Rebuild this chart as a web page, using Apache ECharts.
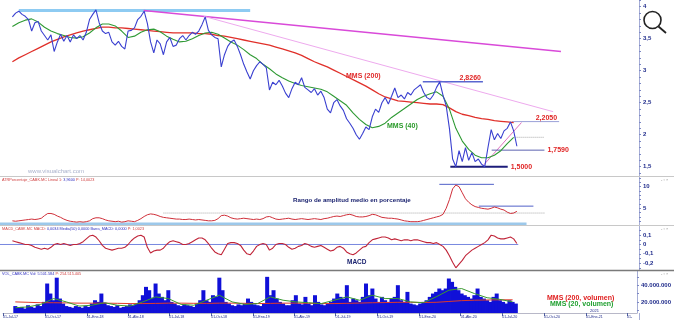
<!DOCTYPE html>
<html><head><meta charset="utf-8">
<script src="https://cdn.jsdelivr.net/npm/echarts@6/dist/echarts.min.js"></script>
<style>html,body{margin:0;padding:0;background:#fff}#c{width:674px;height:320px}</style>
</head><body><div id="c"></div>
<script>
// ---------- DATA ----------
const startWeek = '2017-07-28';   // weekly samples (Fridays)
const price = [
3.84,3.90,3.93,3.88,3.85,3.80,3.62,3.75,3.77,3.62,
3.55,3.48,3.56,3.30,3.45,3.57,3.46,3.55,3.45,3.56,
3.50,3.55,3.48,3.60,3.80,3.88,3.95,3.75,3.62,3.58,
3.60,3.45,3.40,3.46,3.38,3.34,3.62,3.63,3.67,3.80,
3.85,3.93,3.74,3.45,3.28,3.48,3.42,3.25,3.45,3.52,
3.38,3.40,3.50,3.55,3.48,3.55,3.60,3.57,3.62,3.72,
3.84,3.63,3.56,3.52,3.50,3.06,3.25,3.38,3.45,3.48,
3.38,3.25,3.10,2.98,2.87,3.00,3.08,3.14,3.10,3.05,
2.70,2.82,2.78,2.85,2.76,2.65,2.58,2.72,2.82,2.78,
2.89,2.74,2.70,2.66,2.72,2.62,2.68,2.58,2.40,2.34,
2.50,2.55,2.45,2.38,2.25,2.18,2.10,2.00,1.93,2.02,
2.12,2.08,2.28,2.40,2.35,2.50,2.58,2.48,2.60,2.73,
2.58,2.62,2.56,2.66,2.62,2.70,2.74,2.78,2.66,2.58,
2.55,2.62,2.74,2.826,2.62,2.45,2.10,1.62,1.50,1.75,
1.58,1.80,1.60,1.72,1.58,1.62,1.54,1.50,1.80,2.08,
1.92,2.02,1.94,2.06,2.10,2.20,2.06,1.82];
// moving averages, one value every 2 weeks
const mms200 = [
3.14,3.20,3.25,3.30,3.35,3.40,3.45,3.49,3.53,3.56,
3.59,3.62,3.64,3.66,3.68,3.68,3.67,3.67,3.66,3.65,
3.64,3.63,3.62,3.61,3.60,3.59,3.59,3.59,3.59,3.58,
3.58,3.57,3.55,3.54,3.52,3.50,3.48,3.46,3.44,3.42,
3.40,3.37,3.34,3.31,3.28,3.24,3.19,3.14,3.10,3.06,
3.01,2.96,2.91,2.86,2.81,2.76,2.70,2.64,2.59,2.56,
2.53,2.52,2.51,2.50,2.49,2.48,2.48,2.47,2.42,2.36,
2.32,2.30,2.27,2.25,2.24,2.22,2.21,2.20,2.19];
const mms40 = [
3.69,3.75,3.79,3.81,3.76,3.68,3.62,3.58,3.55,3.52,
3.51,3.53,3.59,3.67,3.73,3.73,3.70,3.62,3.52,3.54,
3.60,3.64,3.65,3.61,3.54,3.49,3.45,3.46,3.50,3.55,
3.59,3.60,3.57,3.51,3.45,3.40,3.33,3.25,3.19,3.10,
3.03,2.95,2.89,2.84,2.80,2.77,2.75,2.73,2.71,2.67,
2.60,2.53,2.46,2.34,2.24,2.16,2.11,2.13,2.18,2.27,
2.34,2.41,2.48,2.55,2.60,2.64,2.67,2.60,2.40,2.10,
1.90,1.77,1.68,1.64,1.64,1.68,1.75,1.86,1.96];
const atrPct = [
2.1,2.0,2.1,2.2,2.3,2.4,2.5,2.4,2.5,2.7,
3.3,3.8,3.8,3.6,3.2,2.9,2.5,2.2,2.0,1.9,
1.8,1.9,1.8,1.9,2.1,2.6,2.8,2.8,2.6,2.3,
2.1,2.0,1.9,2.0,1.8,1.9,2.1,2.0,1.9,2.2,
2.6,3.1,3.5,3.7,3.6,3.4,3.1,2.9,2.8,2.7,
2.6,2.5,2.5,2.4,2.4,2.5,2.4,2.3,2.4,2.3,
2.2,2.1,2.1,2.2,2.6,3.3,3.4,3.2,2.8,2.6,
2.5,2.6,2.7,2.6,2.5,2.4,2.5,2.4,2.6,3.0,
3.1,2.8,2.5,2.4,2.5,2.6,2.7,2.5,2.4,2.5,
2.6,2.5,2.4,2.5,2.6,2.5,2.4,2.6,2.7,2.9,
3.1,3.2,3.1,3.3,3.5,3.6,3.4,3.1,3.0,3.0,
3.1,3.3,3.6,3.5,3.2,2.9,2.8,2.7,2.7,2.6,
2.5,2.3,2.1,2.0,1.9,1.9,1.9,2.0,2.2,2.4,
2.6,2.8,3.0,3.2,3.6,5.0,7.0,9.5,10.4,10.0,
8.6,7.2,6.4,5.8,5.4,5.2,5.0,4.9,4.8,5.0,
5.3,5.1,4.8,4.6,4.1,3.8,3.9,4.3];
const macd = [
0.04,0.03,0.02,0.01,0.00,0.00,-0.01,-0.03,-0.04,-0.05,
-0.04,-0.05,-0.03,0.00,0.01,0.00,0.01,0.00,-0.01,0.00,
0.00,0.01,0.03,0.06,0.09,0.10,0.08,0.04,-0.01,-0.04,
-0.05,-0.06,-0.05,-0.04,-0.04,-0.03,0.00,0.04,0.07,0.09,
0.10,0.08,-0.03,-0.09,-0.07,-0.06,-0.06,-0.04,0.00,0.03,
0.04,0.03,0.02,0.00,0.00,0.01,0.03,0.05,0.07,0.07,
0.05,0.01,-0.04,-0.08,-0.10,-0.11,-0.05,0.01,0.02,0.02,
0.01,-0.01,-0.06,-0.10,-0.11,-0.07,-0.02,0.00,0.01,0.00,
-0.06,-0.04,0.00,0.01,0.01,0.00,-0.03,-0.05,-0.04,-0.02,
-0.01,0.01,0.00,-0.02,-0.03,-0.02,-0.01,-0.03,-0.05,-0.07,
-0.06,-0.03,-0.02,-0.04,-0.08,-0.10,-0.11,-0.09,-0.06,-0.03,
-0.02,0.02,0.05,0.06,0.07,0.08,0.08,0.07,0.05,0.06,
0.05,0.04,0.05,0.05,0.04,0.05,0.05,0.04,0.03,0.02,
0.02,0.01,0.02,0.00,-0.02,-0.06,-0.12,-0.19,-0.25,-0.21,
-0.17,-0.12,-0.09,-0.06,-0.04,-0.02,0.00,0.02,0.05,0.10,
0.09,0.07,0.06,0.06,0.07,0.08,0.06,0.01];
// volume, millions of shares
const volume = [
15,13,14,12,16,14,13,17,15,20,
42,30,22,49,24,18,15,14,13,15,
14,13,15,14,18,22,20,30,19,16,
15,14,16,13,14,15,17,16,18,22,
28,38,34,25,42,30,26,22,34,20,
18,16,15,17,16,15,14,18,22,34,
22,20,28,26,49,34,20,18,16,15,
17,16,18,24,20,17,16,15,18,50,
28,34,24,20,18,16,16,22,28,18,
17,26,18,16,28,20,17,16,18,20,
24,30,26,24,40,20,24,22,20,26,
42,28,36,24,20,26,22,20,24,26,
40,22,20,32,18,17,16,18,20,22,
26,30,32,36,34,36,48,44,38,34,
30,28,26,24,28,36,26,24,22,20,
26,30,22,20,18,22,20,18];
// volume averages, one value every 4 weeks
const volMMS200 = [
20,19.5,19,19,18.8,18.5,18.5,18.5,18.3,18,
18,18.2,18.5,18.5,18.3,18.2,18.5,18.5,18.3,18,
18.2,18.5,18.5,18.3,18,18,18.3,18.6,19,19.2,
19.5,19.5,19.3,19.5,20.5,21.5,22,22.3,22.5,22.5];
const volMMS20 = [
13,14,17,24,20,15,16,19,16,15,
20,26,24,17,16,22,28,20,17,18,
26,22,20,19,18,22,26,22,28,24,
24,20,19,26,34,36,30,25,23,20];

// drawn levels and trend lines (date, value)
const priceLevels = [
  {value: 2.826, from: '2020-01-08', to: '2020-05-18', text: '2,8260'},
  {value: 2.205, from: '2020-07-20', to: '2020-10-31', text: '2,2050'},
  {value: 1.759, from: '2020-06-06', to: '2020-09-29', text: '1,7590'},
  {value: 1.5,   from: '2020-03-08', to: '2020-07-11', text: '1,5000'}
];
const lastLevel = {value: 1.96, from: '2020-07-26', to: '2020-09-29'};
const highLevel = {value: 3.94, from: '2017-08-11', to: '2018-12-28'};
const trendMain  = [['2018-05-10', 3.94], ['2020-11-04', 3.30]];
const trendThin  = [['2018-09-18', 3.85], ['2020-10-18', 2.36]];
const trendShort = [['2020-05-20', 1.53], ['2020-08-10', 2.19]];
const atrLevels = [
  {value: 10.55, from: '2020-02-13', to: '2020-06-11'},
  {value: 5.5,   from: '2020-05-09', to: '2020-09-05'}
];
const atrDotted = {value: 3.9, from: '2018-06-22', to: '2020-09-29'};
const atrBase   = {value: 1.35, from: '2017-07-01', to: '2020-08-21'};
const macdZero  = {value: 0, from: '2017-07-01', to: '2020-08-03'};

// axis ticks and labels
const xTickDates = ['2017-07-01','2017-10-01','2018-01-01','2018-04-01','2018-07-01','2018-10-01','2019-01-01','2019-04-01','2019-07-01','2019-10-01','2020-01-01','2020-04-01','2020-07-01','2020-10-01','2021-01-01','2021-04-01'];
const xTickLabels = ['01-Jul-17','01-Oct-17','01-Ene-18','01-Abr-18','01-Jul-18','01-Oct-18','01-Ene-19','01-Abr-19','01-Jul-19','01-Oct-19','01-Ene-20','01-Abr-20','01-Jul-20','01-Oct-20','01-Ene-21','01-'];
const priceLabelVals = [1.5, 2, 2.5, 3, 3.5, 4];
const priceLabels = ['1,5','2','2,5','3','3,5','4'];
const priceTickVals = [1.4,1.5,1.6,1.7,1.8,1.9,2,2.1,2.2,2.3,2.4,2.5,2.6,2.7,2.8,2.9,3,3.1,3.2,3.3,3.4,3.5,3.6,3.7,3.8,3.9,4,4.1];
const atrLabelVals = [5, 10];
const atrLabels = ['5','10'];
const atrTickVals = [2,3,4,5,6,7,8,9,10,11,12];
const macdLabelVals = [0.1, 0, -0.1, -0.2];
const macdLabels = ['0,1','0','-0,1','-0,2'];
const macdTickVals = [0.15,0.1,0.05,0,-0.05,-0.1,-0.15,-0.2,-0.25];
const volLabelVals = [20, 40];
const volLabels = ['20.000.000','40.000.000'];
const volTickVals = [10,20,30,40,50];

// ---------- BUILD ----------
const T = s => { const p = s.split('-').map(Number); return Date.UTC(p[0], p[1]-1, p[2]); };
const DAY = 86400000;
const t0 = T(startWeek);
const at = (arr, step) => arr.map((v, i) => [t0 + i*step*7*DAY, v]);
const xMin = T('2017-07-01'), xMax = T('2021-04-23');
const xTickTs = xTickDates.map(T);

const FONT = 'Liberation Sans';
const NAVY = '#1e2a8a';
const lookup = (vals, labels) => v => { const k = vals.findIndex(t => Math.abs(t - v) < 1e-6 * Math.max(1, Math.abs(t))); return k < 0 ? '' : labels[k]; };

const grids = [
  {left: -9, width: 648, top: 0, height: 176},
  {left: -9, width: 648, top: 177, height: 48},
  {left: -9, width: 648, top: 226, height: 44},
  {left: -9, width: 648, top: 271, height: 42}
];
const xAxes = grids.map((g, i) => i < 3 ? {type: 'value', gridIndex: i, min: xMin, max: xMax, show: false, splitLine: {show: false}} : {
  type: 'value', gridIndex: i, min: xMin, max: xMax,
  axisLine: {show: true, lineStyle: {color: '#b8b8c8', width: 1}},
  axisTick: {show: true, customValues: xTickTs, length: 3, lineStyle: {color: '#5060a0'}},
  axisLabel: {customValues: xTickTs, formatter: lookup(xTickTs, xTickLabels),
    align: 'left', fontSize: 3.6, color: NAVY, margin: 2, fontFamily: FONT},
  splitLine: {show: false}
});
function yAx(gi, min, max, tickVals, labelVals, labels) {
  return {type: 'value', gridIndex: gi, position: 'right', min, max,
    axisLine: {show: true, lineStyle: {color: '#a6aed6', width: 1}},
    axisTick: {show: true, customValues: tickVals, length: 2, lineStyle: {color: '#7c88c4'}},
    axisLabel: {customValues: labelVals, formatter: lookup(labelVals, labels), color: NAVY,
      fontSize: 6, fontWeight: 'bold', margin: 4, fontFamily: FONT},
    splitLine: {show: false}};
}
const yAxes = [
  yAx(0, 1.355, 4.105, priceTickVals, priceLabelVals, priceLabels),
  yAx(1, 1.13, 12.25, atrTickVals, atrLabelVals, atrLabels),
  yAx(2, -0.273, 0.198, macdTickVals, macdLabelVals, macdLabels),
  yAx(3, 6.7, 57, volTickVals, volLabelVals, volLabels)
];

function seg(pts, gi, color, width, type, z) {
  return {type: 'line', xAxisIndex: gi, yAxisIndex: gi, symbol: 'none', silent: true, z: z || 3,
    lineStyle: {color, width, type: type || 'solid'}, data: pts};
}
function levelPts(lv) { return [[T(lv.from), lv.value], [T(lv.to), lv.value]]; }
const levelStyle = [
  {color: '#5a66d0', width: 1.5, pos: 'left',  offset: [0, -4]},
  {color: '#9aa0d8', width: 1,   pos: 'left',  offset: [0, -4]},
  {color: '#5c62b0', width: 1,   pos: 'right', offset: [1, 0]},
  {color: '#1c1c7a', width: 2,   pos: 'right', offset: [1, 0]}
];
const levelSeries = priceLevels.map((lv, k) => {
  const st = levelStyle[k];
  return {type: 'line', xAxisIndex: 0, yAxisIndex: 0, symbol: 'circle', symbolSize: 0, silent: true, z: 4,
    lineStyle: {color: st.color, width: st.width},
    data: [{value: [T(lv.from), lv.value]},
           {value: [T(lv.to), lv.value], label: {show: true, formatter: lv.text, position: st.pos, distance: 2,
             offset: st.offset, color: '#e02424', fontSize: 7, fontWeight: 'bold', fontFamily: FONT}}]};
});

const series = [
  seg(levelPts(highLevel), 0, '#8ecbf2', 3, 'solid', 2),
  seg(trendMain.map(p => [T(p[0]), p[1]]), 0, '#d94ad9', 1.5),
  seg(trendThin.map(p => [T(p[0]), p[1]]), 0, '#eeaaee', 1),
  seg(trendShort.map(p => [T(p[0]), p[1]]), 0, '#e070c0', 1),
  seg(levelPts(lastLevel), 0, '#a8a8a8', 1, 'dotted'),
  ...levelSeries,
  {type: 'line', name: 'MMS (200)', xAxisIndex: 0, yAxisIndex: 0, symbol: 'none', z: 5,
    lineStyle: {color: '#e0302a', width: 1.3}, data: at(mms200, 2)},
  {type: 'line', name: 'MMS (40)', xAxisIndex: 0, yAxisIndex: 0, symbol: 'none', z: 5,
    lineStyle: {color: '#2f9a34', width: 1.1}, data: at(mms40, 2)},
  {type: 'line', name: 'CABK', xAxisIndex: 0, yAxisIndex: 0, symbol: 'none', z: 6,
    lineStyle: {color: '#3a40d0', width: 1.1}, data: at(price, 1)},
  // ATR panel
  seg(levelPts(atrBase), 1, '#9cc8ea', 3, 'solid', 2),
  seg(levelPts(atrDotted), 1, '#a8a8a8', 1, 'dotted'),
  ...atrLevels.map(lv => seg(levelPts(lv), 1, '#5060c8', 1)),
  {type: 'line', xAxisIndex: 1, yAxisIndex: 1, symbol: 'none', z: 5,
    lineStyle: {color: '#d0303a', width: 1}, data: at(atrPct, 1)},
  // MACD panel
  seg(levelPts(macdZero), 2, '#7888e0', 1),
  {type: 'line', xAxisIndex: 2, yAxisIndex: 2, symbol: 'none', z: 5,
    lineStyle: {color: '#c02438', width: 1.1}, data: at(macd, 1)},
  // Volume panel
  {type: 'bar', xAxisIndex: 3, yAxisIndex: 3, barWidth: 4, itemStyle: {color: '#1010d8'}, data: at(volume, 1)},
  {type: 'line', xAxisIndex: 3, yAxisIndex: 3, symbol: 'none', z: 5,
    lineStyle: {color: '#e03a2a', width: 1}, data: at(volMMS200, 4)},
  {type: 'line', xAxisIndex: 3, yAxisIndex: 3, symbol: 'none', z: 5,
    lineStyle: {color: '#3a9a30', width: 1}, data: at(volMMS20, 4)}
];

function txt(x, y, text, fill, font) {
  return {type: 'text', x, y, z: 50, silent: true, style: {text, fill, font, verticalAlign: 'middle'}};
}
function hline(y, stroke, w) {
  return {type: 'line', z: 40, silent: true, shape: {x1: 0, y1: y, x2: 674, y2: y}, style: {stroke, lineWidth: w}};
}
const small = '3.8px ' + FONT;
function header(y, parts) {
  return {type: 'text', x: 2, y, z: 50, silent: true, style: {
    text: parts.map((p, i) => '{' + (i % 2 ? 'b' : 'r') + '|' + p + '}').join(''),
    verticalAlign: 'middle',
    rich: {r: {fill: '#d04040', font: small}, b: {fill: '#3030c0', font: small}}}};
}
const graphic = [
  hline(176.5, '#c8c8c8', 1),
  hline(225.5, '#c8c8c8', 1),
  hline(270.5, '#7a7a7a', 1.5),
  {type: 'rect', z: 45, silent: true, shape: {x: 640, y: 313.5, width: 34, height: 7}, style: {fill: '#fff'}},
  {type: 'line', z: 46, silent: true, shape: {x1: 639.5, y1: 313, x2: 639.5, y2: 320}, style: {stroke: '#a6aed6', lineWidth: 1}},
  {type: 'circle', z: 50, silent: true, shape: {cx: 652.5, cy: 20, r: 8.5}, style: {fill: 'none', stroke: '#222', lineWidth: 1.6}},
  {type: 'line', z: 50, silent: true, shape: {x1: 658.5, y1: 26.5, x2: 666, y2: 33}, style: {stroke: '#222', lineWidth: 1.8}},
  txt(346, 76, 'MMS (200)', '#e02a2a', 'bold 7px ' + FONT),
  txt(387, 126, 'MMS (40)', '#2a9a2a', 'bold 7px ' + FONT),
  txt(28, 171, 'www.visualchart.com', '#aab2cc', '6px ' + FONT),
  txt(293, 200, 'Rango de amplitud medio en porcentaje', '#1c2470', 'bold 6.2px ' + FONT),
  txt(347, 262, 'MACD', '#1c2470', 'bold 6.5px ' + FONT),
  txt(547, 298, 'MMS (200, volumen)', '#e02020', 'bold 7px ' + FONT),
  txt(550, 304.5, 'MMS (20, volumen)', '#20a030', 'bold 7px ' + FONT),
  txt(590, 311, '2021', NAVY, '4px ' + FONT),
  header(179.5, ['ATRPorcentaje_CABK.MC Lineal 1: ', '3,9600', ' P: 14,0023']),
  header(229, ['MACD_CABK.MC MACD: ', '0,0034 Media(50) 0,0000 Barra_MACD: 0,0000', ' P: 1,0023']),
  header(273.5, ['', 'VOL_CABK.MC Vol: 5.501.584', ' P: 254.515.405']),
  txt(661, 179.5, '- ▫ ×', '#999', '4px ' + FONT),
  txt(661, 228.5, '- ▫ ×', '#999', '4px ' + FONT),
  txt(661, 273.5, '- ▫ ×', '#999', '4px ' + FONT)
];

const chart = echarts.init(document.getElementById('c'), null, {renderer: 'canvas'});
chart.setOption({
  animation: false, backgroundColor: '#ffffff',
  grid: grids, xAxis: xAxes, yAxis: yAxes, series, graphic
});
</script>
</body></html>
